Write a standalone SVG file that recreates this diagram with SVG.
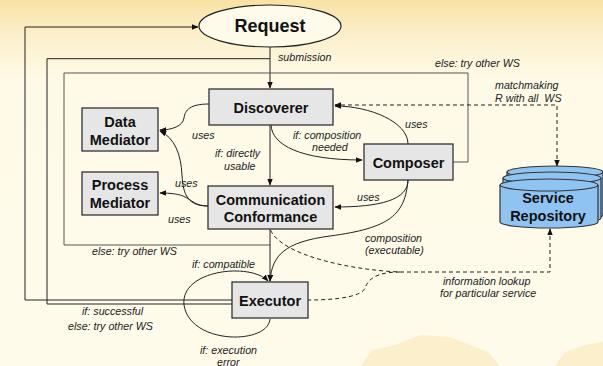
<svg xmlns="http://www.w3.org/2000/svg" width="603" height="366" viewBox="0 0 603 366">
<defs>
<linearGradient id="bg" x1="0" y1="0" x2="0" y2="1">
<stop offset="0" stop-color="#f8e2a4"/>
<stop offset="0.1" stop-color="#fcf0cc"/>
<stop offset="0.22" stop-color="#fffae8"/>
<stop offset="1" stop-color="#fffbea"/>
</linearGradient>
<marker id="ah" viewBox="0 0 10 10" refX="9" refY="5" markerWidth="7" markerHeight="7" orient="auto-start-reverse" markerUnits="userSpaceOnUse">
<path d="M0,1 L10,5 L0,9 z" fill="#111"/>
</marker>
<style>
.box{fill:#e6e6e6;stroke:#333;stroke-width:1.3}
.cyl{fill:#8fc4f2;stroke:#333;stroke-width:1.2}
.t{font-family:"Liberation Sans",Arial,sans-serif;font-weight:bold;font-size:14.5px;fill:#111;text-anchor:middle}
.l{font-family:"Liberation Sans",Arial,sans-serif;font-style:italic;font-size:10.7px;fill:#222}
.c{fill:none;stroke:#222;stroke-width:1}
.g{fill:none;stroke:#555;stroke-width:1}
.d{fill:none;stroke:#222;stroke-width:1;stroke-dasharray:4 3}
</style>
</defs>
<rect width="603" height="366" fill="url(#bg)"/>
<g fill="#fcf0cc">
<path d="M360,366 L372,350 L395,345 L420,335 L450,337 L470,345 L488,352 L500,366 z"/>
<path d="M555,366 L565,352 L585,345 L603,342 L603,366 z"/>
</g>

<g id="connectors">
<path class="c" d="M270,47 V88" marker-end="url(#ah)"/>
<path class="c" d="M232,300 H25 V27 H198" marker-end="url(#ah)"/>
<path class="c" d="M232,304 H47 V58.7 H270"/>
<path class="g" d="M453,162 H468 V73 H64 V245 H270"/>
<path class="c" d="M270,125 V185" marker-end="url(#ah)"/>
<path class="c" d="M270,229 V281" marker-end="url(#ah)"/>
<path class="c" d="M209,104 C190,104 185,110 184,118 C183,126 172,130 160,130" marker-end="url(#ah)"/>
<path class="c" d="M208,206 C188,206 183,195 182,175 C181,155 175,138 160,131" marker-end="url(#ah)"/>
<path class="c" d="M208,206 C195,206 192,200 185,197 C180,194 170,193 160,193" marker-end="url(#ah)"/>
<path class="c" d="M271,125 C272,145 300,160 362,160" marker-end="url(#ah)"/>
<path class="c" d="M408,144 C408,122 370,106 335,106" marker-end="url(#ah)"/>
<path class="c" d="M408,180 C408,200 380,207 335,207" marker-end="url(#ah)"/>
<path class="c" d="M408,180 C405,215 390,228 330,236 C285,242 272,255 270,281" marker-end="url(#ah)"/>
<path class="c" d="M270,319 C268,345 190,345 184,305 C180,270 250,262 268,281" marker-end="url(#ah)"/>
<path class="d" d="M557,166 V105 H335" marker-start="url(#ah)" marker-end="url(#ah)"/>
<path class="d" d="M550,229 V272 H400 C350,270 280,255 270,229" marker-start="url(#ah)"/>
<path class="d" d="M400,272 C375,272 368,280 365,288 C362,296 340,300 308,300"/>
</g>

<g id="request">
<ellipse cx="270" cy="26" rx="71" ry="21" fill="#fffbea" stroke="#222" stroke-width="1.2"/>
<text class="t" x="270" y="32" style="font-size:18px">Request</text>
</g>
<g id="discoverer">
<rect class="box" x="209" y="89" width="124" height="36"/>
<text class="t" x="271" y="113">Discoverer</text>
</g>
<g id="data-mediator">
<rect class="box" x="82" y="108" width="76" height="43"/>
<text class="t" x="120" y="127">Data</text>
<text class="t" x="120" y="144.5">Mediator</text>
</g>
<g id="process-mediator">
<rect class="box" x="82" y="172" width="76" height="43"/>
<text class="t" x="120" y="190">Process</text>
<text class="t" x="120" y="208">Mediator</text>
</g>
<g id="communication-conformance">
<rect class="box" x="208" y="186" width="125" height="43"/>
<text class="t" x="270.5" y="204.5">Communication</text>
<text class="t" x="270.5" y="222">Conformance</text>
</g>
<g id="composer">
<rect class="box" x="364" y="144" width="89" height="36"/>
<text class="t" x="408.5" y="167.5">Composer</text>
</g>
<g id="executor">
<rect class="box" x="232" y="282" width="76" height="36"/>
<text class="t" x="270" y="306">Executor</text>
</g>
<g id="service-repository">
<path class="cyl" d="M507,172 V215 A48,6 0 0 0 603,215 V172"/>
<ellipse class="cyl" cx="555" cy="172" rx="48" ry="6"/>
<path class="cyl" d="M503,178 V218 A49,6 0 0 0 601,218 V178"/>
<ellipse class="cyl" cx="552" cy="178" rx="49" ry="6"/>
<path class="cyl" d="M500,185 V222 A49,6 0 0 0 598,222 V185"/>
<ellipse class="cyl" cx="549" cy="185" rx="49" ry="6"/>
<text class="t" x="548" y="203">Service</text>
<text class="t" x="548" y="221">Repository</text>
</g>

<g id="labels">
<text class="l" x="278" y="61">submission</text>
<text class="l" x="435" y="67">else: try other WS</text>
<text class="l" x="495" y="88.5">matchmaking</text>
<text class="l" x="495" y="102">R with all&#160; WS</text>
<text class="l" x="405" y="128">uses</text>
<text class="l" x="192" y="138.5">uses</text>
<text class="l" x="293" y="138.5">if: composition</text>
<text class="l" x="312" y="151">needed</text>
<text class="l" x="215" y="157">if: directly</text>
<text class="l" x="224" y="169.5">usable</text>
<text class="l" x="175" y="187">uses</text>
<text class="l" x="168" y="223">uses</text>
<text class="l" x="357" y="200.5">uses</text>
<text class="l" x="365" y="241.5">composition</text>
<text class="l" x="365" y="253.5">(executable)</text>
<text class="l" x="92" y="254.5">else: try other WS</text>
<text class="l" x="192" y="267.5">if: compatible</text>
<text class="l" x="443" y="285">information lookup</text>
<text class="l" x="440" y="297">for particular service</text>
<text class="l" x="82" y="315">if: successful</text>
<text class="l" x="68" y="329.5">else: try other WS</text>
<text class="l" x="200" y="353.5">if: execution</text>
<text class="l" x="217" y="365.5">error</text>
</g>
</svg>
